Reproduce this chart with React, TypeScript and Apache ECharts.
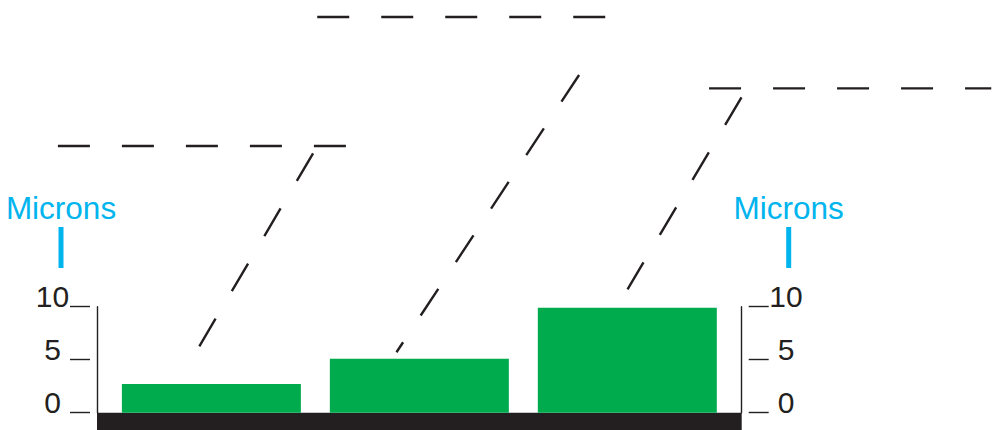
import React, { useEffect, useRef } from "react";
import * as echarts from "echarts";

// Bars: positions along the substrate and heights in microns
const barPositions = [1, 2, 3];
const barValues = [2.7, 5.1, 9.9];

// Axis scale (microns)
const yMin = 0;
const yMax = 10;
const yInterval = 5;
const axisName = "Microns";

// Horizontal x-extent of the substrate (bar-position units)
const xMin = 0.45;
const xMax = 3.55;

// Dashed leader lines, in [position, microns]
const shelfLeft = [[0.262, 25.16], [1.651, 25.16]];
const shelfMiddle = [[1.509, 37.33], [2.895, 37.33]];
const shelfRight = [[3.393, 30.6], [4.75, 30.6]];
const riseLeft = [[1.489, 24.47], [0.94, 6.2]];
const riseMiddle = [[2.768, 31.86], [1.89, 5.7]];
const riseRight = [[3.549, 29.75], [3.001, 11.64]];

const INK = "#231f20";
const GREEN = "#00ab4e";
const CYAN = "#00b4ee";
const FONT = "Liberation Sans";

// layout
const W = 992;
const H = 430;
const G = { left: 97, right: 250.3, top: 306.7, bottom: 17.3 };
const pxPerX = (W - G.left - G.right) / (xMax - xMin);
const pxPerY = (H - G.top - G.bottom) / (yMax - yMin);

const nameStyle = (pad: number[]) => ({
  padding: pad,
  rich: {
    m: { fontSize: 31.5, color: CYAN, lineHeight: 39, fontFamily: FONT },
    b: { width: 5, height: 41, lineHeight: 41, backgroundColor: CYAN },
  },
});

const lineAxis = (position: "left" | "right") => ({
  type: "value",
  position,
  min: yMin,
  max: yMax,
  interval: yInterval,
  axisLine: { show: true, lineStyle: { color: INK, width: 1.4 } },
  axisTick: { show: false },
  axisLabel: { show: false },
  splitLine: { show: false },
});

const tickAxis = (position: "left" | "right", margin: number, pad: number[]) => ({
  type: "value",
  position,
  offset: 7,
  min: yMin,
  max: yMax,
  interval: yInterval,
  name: `{m|${axisName}}\n{b| }`,
  nameLocation: "end",
  nameGap: 38.7,
  nameTextStyle: nameStyle(pad),
  axisLine: { show: false },
  axisTick: { show: true, length: 20, lineStyle: { color: INK, width: 1.4 } },
  axisLabel: {
    show: true,
    margin,
    align: "center",
    verticalAlign: "bottom",
    lineHeight: 20,
    fontSize: 30,
    color: INK,
    fontFamily: FONT,
  },
  splitLine: { show: false },
});

const dashed = (data: number[][]) => ({
  type: "line",
  xAxisIndex: 1,
  yAxisIndex: 4,
  data,
  clip: false,
  silent: true,
  symbol: "none",
  lineStyle: { color: INK, width: 2.4, type: [32, 32], cap: "butt" },
  z: 3,
});

const hiddenAxis = {
  axisLine: { show: false },
  axisTick: { show: false },
  axisLabel: { show: false },
  splitLine: { show: false },
};

export default function App() {
  const ref = useRef<HTMLDivElement>(null);
  useEffect(() => {
    if (!ref.current) return;
    const chart = echarts.init(ref.current, null, { renderer: "svg" });
    chart.setOption({
      animation: false,
      backgroundColor: "#ffffff",
      grid: [
        G,
        { left: 0, right: 0, top: 0, bottom: G.bottom },
      ],
      xAxis: [
        {
          type: "value",
          gridIndex: 0,
          min: xMin,
          max: xMax,
          offset: 8.65,
          axisLine: {
            show: true,
            onZero: false,
            lineStyle: { color: INK, width: 17.3, cap: "butt" },
          },
          axisTick: { show: false },
          axisLabel: { show: false },
          splitLine: { show: false },
        },
        {
          type: "value",
          gridIndex: 1,
          min: xMin - G.left / pxPerX,
          max: xMin + (W - G.left) / pxPerX,
          ...hiddenAxis,
        },
      ],
      yAxis: [
        lineAxis("left"),
        tickAxis("left", 37.5, [0, 58, 0, 0]),
        lineAxis("right"),
        tickAxis("right", 37.3, [0, 0, 0, 80]),
        {
          type: "value",
          gridIndex: 1,
          min: yMin,
          max: yMin + (H - G.bottom) / pxPerY,
          ...hiddenAxis,
        },
      ],
      series: [
        {
          type: "bar",
          data: barPositions.map((p, i) => [p, barValues[i]]),
          barWidth: 179,
          itemStyle: { color: GREEN },
          silent: true,
          z: 2,
        },
        dashed(shelfLeft),
        dashed(shelfMiddle),
        dashed(shelfRight),
        dashed(riseLeft),
        dashed(riseMiddle),
        dashed(riseRight),
      ],
    });
    return () => chart.dispose();
  }, []);
  return (
    <div
      ref={ref}
      style={{ position: "fixed", left: 0, top: 0, width: W, height: H }}
    />
  );
}
